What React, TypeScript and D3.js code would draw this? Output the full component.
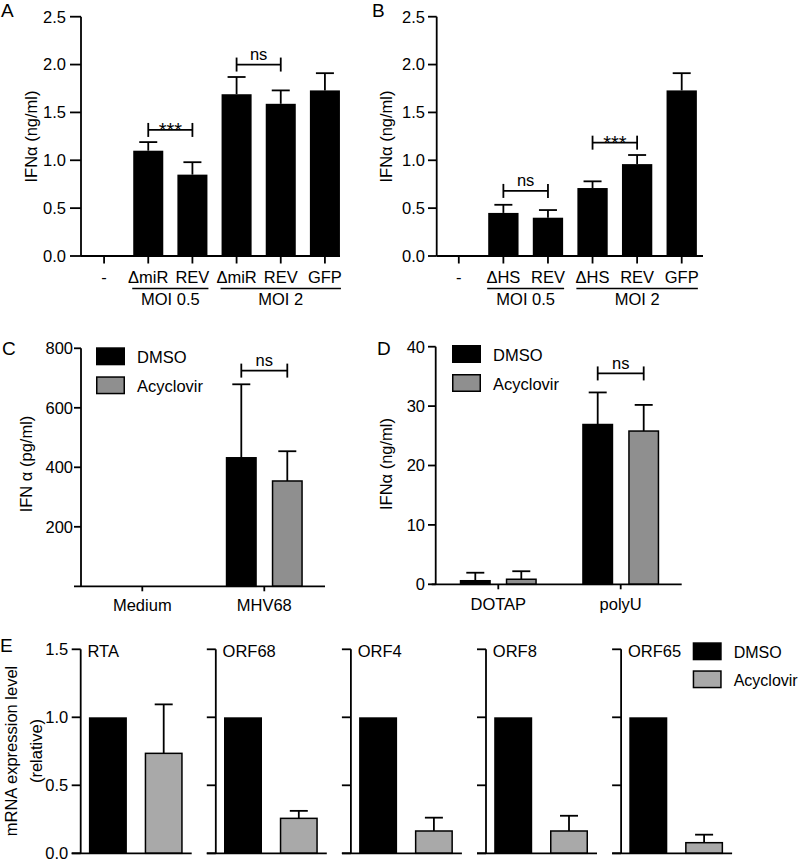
import React from 'react';
import * as d3 from 'd3';

// ---------- DATA ----------
const aCategories = ['-', 'ΔmiR', 'REV', 'ΔmiR', 'REV', 'GFP'];
const aValues = [0, 1.10, 0.85, 1.69, 1.59, 1.73];
const aErrors = [0, 0.09, 0.13, 0.18, 0.14, 0.18];
const aSignif = [
  { from: 1, to: 2, level: 1.317, label: '***' },
  { from: 3, to: 4, level: 2.0, label: 'ns' },
];

const bCategories = ['-', 'ΔHS', 'REV', 'ΔHS', 'REV', 'GFP'];
const bValues = [0, 0.45, 0.40, 0.71, 0.96, 1.73];
const bErrors = [0, 0.085, 0.08, 0.07, 0.095, 0.18];
const bSignif = [
  { from: 1, to: 2, level: 0.68, label: 'ns' },
  { from: 3, to: 4, level: 1.184, label: '***' },
];

const abTicks = [0, 0.5, 1.0, 1.5, 2.0, 2.5];
const moiGroups = [
  { label: 'MOI 0.5', first: 1, last: 2 },
  { label: 'MOI 2', first: 3, last: 5 },
];

const treatments = ['DMSO', 'Acyclovir'];

const cGroups = ['Medium', 'MHV68'];
const cDmso = [0, 432];
const cDmsoErr = [0, 247];
const cAcy = [0, 354];
const cAcyErr = [0, 100];
const cTicks = [200, 400, 600, 800];
const cSignif = { group: 1, level: 725, label: 'ns' };

const dGroups = ['DOTAP', 'polyU'];
const dDmso = [0.6, 26.9];
const dDmsoErr = [1.35, 5.4];
const dAcy = [0.85, 25.8];
const dAcyErr = [1.35, 4.4];
const dTicks = [0, 10, 20, 30, 40];
const dSignif = { group: 1, level: 35.5, label: 'ns' };

const eGenes = ['RTA', 'ORF68', 'ORF4', 'ORF8', 'ORF65'];
const eDmso = [1, 1, 1, 1, 1];
const eAcy = [0.735, 0.257, 0.164, 0.164, 0.078];
const eAcyErr = [0.36, 0.055, 0.098, 0.112, 0.059];
const eTicks = [0, 0.5, 1.0, 1.5];

// ---------- STYLE ----------
const FONT = 'Arial, "Liberation Sans", sans-serif';
const FS = 16.5;
const GRAY_CD = '#8f8f8f';
const GRAY_E = '#a9a9a9';
const LW = 1.8;

function ErrBar({ x, y0, y1, cap = 18 }: { x: number; y0: number; y1: number; cap?: number }) {
  return (
    <g stroke="#000" strokeWidth={LW}>
      <line x1={x} x2={x} y1={y0} y2={y1} />
      <line x1={x - cap / 2} x2={x + cap / 2} y1={y1} y2={y1} />
    </g>
  );
}

function Bracket({ x1, x2, y, label }: { x1: number; x2: number; y: number; label: string }) {
  const star = label.includes('*');
  return (
    <g>
      <g stroke="#000" strokeWidth={LW}>
        <line x1={x1} x2={x2} y1={y} y2={y} />
        <line x1={x1} x2={x1} y1={y - 7} y2={y + 7} />
        <line x1={x2} x2={x2} y1={y - 7} y2={y + 7} />
      </g>
      <text
        x={(x1 + x2) / 2}
        y={star ? y + 7 : y - 4.7}
        textAnchor="middle"
        fontSize={star ? 20 : FS}
        fontFamily={FONT}
      >
        {label}
      </text>
    </g>
  );
}

type ABProps = {
  categories: string[];
  values: number[];
  errors: number[];
  signif: { from: number; to: number; level: number; label: string }[];
  axisX: number;
  axisEnd: number;
  bandRange: [number, number];
  tickLen: number;
  labelGap: number;
  letter: string;
  letterX: number;
  yLabelX: number;
  moiLineGap: number;
};

function PanelAB(p: ABProps) {
  const y = d3.scaleLinear().domain([0, 2.5]).range([256, 16.7]);
  const idx = d3.range(p.categories.length);
  const x = d3
    .scaleBand<number>()
    .domain(idx)
    .range(p.bandRange)
    .paddingInner(0.32)
    .paddingOuter(0.16);
  const bw = x.bandwidth();
  const cx = (i: number) => (x(i) as number) + bw / 2;
  return (
    <g fontFamily={FONT} fontSize={FS}>
      <text x={p.letterX} y={16.7} fontSize={19}>
        {p.letter}
      </text>
      <text transform={`translate(${p.yLabelX},136.5) rotate(-90)`} textAnchor="middle">
        IFNα (ng/ml)
      </text>
      {idx.map((i) => (
        <rect
          key={'b' + i}
          x={x(i)}
          width={bw}
          y={y(p.values[i])}
          height={y(0) - y(p.values[i])}
          fill="#000"
        />
      ))}
      {idx
        .filter((i) => p.errors[i] > 0)
        .map((i) => (
          <ErrBar key={'e' + i} x={cx(i)} y0={y(p.values[i])} y1={y(p.values[i] + p.errors[i])} />
        ))}
      <g stroke="#000" strokeWidth={LW}>
        <line x1={p.axisX} x2={p.axisX} y1={y(2.5)} y2={y(0)} />
        <line x1={p.axisX} x2={p.axisEnd} y1={y(0)} y2={y(0)} />
        {abTicks.map((t) => (
          <line key={'t' + t} x1={p.axisX - p.tickLen} x2={p.axisX} y1={y(t)} y2={y(t)} />
        ))}
        {idx.map((i) => (
          <line key={'xt' + i} x1={cx(i)} x2={cx(i)} y1={y(0)} y2={y(0) + 7.5} />
        ))}
      </g>
      {abTicks.map((t) => (
        <text
          key={'tl' + t}
          x={p.axisX - p.tickLen - p.labelGap}
          y={y(t) + 5.9}
          textAnchor="end"
        >
          {d3.format('.1f')(t)}
        </text>
      ))}
      {idx.map((i) => (
        <text key={'xl' + i} x={cx(i)} y={283.3} textAnchor="middle">
          {p.categories[i]}
        </text>
      ))}
      {moiGroups.map((g) => {
        const xa = (x(g.first) as number) - p.moiLineGap;
        const xb = (x(g.last) as number) + bw + p.moiLineGap;
        return (
          <g key={g.label}>
            <line x1={xa} x2={xb} y1={288.5} y2={288.5} stroke="#000" strokeWidth={1.5} />
            <text x={(xa + xb) / 2} y={305} textAnchor="middle">
              {g.label}
            </text>
          </g>
        );
      })}
      {p.signif.map((s, k) => (
        <Bracket key={'s' + k} x1={cx(s.from)} x2={cx(s.to)} y={y(s.level)} label={s.label} />
      ))}
    </g>
  );
}

type CDProps = {
  groups: string[];
  dmso: number[];
  dmsoErr: number[];
  acy: number[];
  acyErr: number[];
  ticks: number[];
  domainMax: number;
  yRange: [number, number];
  axisX: number;
  xLineStart: number;
  xLineEnd: number;
  groupRange: [number, number];
  tickLen: number;
  labelEnd: number;
  signif: { group: number; level: number; label: string };
  letter: string;
  letterX: number;
  yLabel: string;
  yLabelX: number;
  legendX: number;
  legendY: number;
  xLabelY: number;
};

function Legend({ x, y, gray, dy = 29, fs = FS }: { x: number; y: number; gray: string; dy?: number; fs?: number }) {
  return (
    <g fontFamily={FONT} fontSize={fs}>
      {treatments.map((t, i) => (
        <g key={t}>
          <rect
            x={x + 0.75}
            y={y + i * dy + 0.75}
            width={27.5}
            height={16.5}
            fill={i === 0 ? '#000' : gray}
            stroke="#000"
            strokeWidth={1.5}
          />
          <text x={x + 41} y={y + i * dy + 15.5}>
            {t}
          </text>
        </g>
      ))}
    </g>
  );
}

function PanelCD(p: CDProps) {
  const y = d3.scaleLinear().domain([0, p.domainMax]).range(p.yRange);
  const gx = d3.scaleBand<string>().domain(p.groups).range(p.groupRange);
  const ix = d3.scalePoint<string>().domain(treatments).range([-23, 23]);
  const bw = 31;
  const gc = (g: string) => (gx(g) as number) + gx.bandwidth() / 2;
  const series = [
    { key: 'DMSO', vals: p.dmso, errs: p.dmsoErr, fill: '#000' },
    { key: 'Acyclovir', vals: p.acy, errs: p.acyErr, fill: GRAY_CD },
  ];
  const sg = p.groups[p.signif.group];
  return (
    <g fontFamily={FONT} fontSize={FS}>
      <text x={p.letterX} y={355} fontSize={19}>
        {p.letter}
      </text>
      <text transform={`translate(${p.yLabelX},464) rotate(-90)`} textAnchor="middle">
        {p.yLabel}
      </text>
      {series.map((s) =>
        p.groups.map((g, gi) => {
          const cx = gc(g) + (ix(s.key) as number);
          const v = s.vals[gi];
          if (v <= 0) return null;
          const top = y(v);
          return (
            <g key={s.key + g}>
              <rect
                x={cx - bw / 2 + 0.75}
                y={top}
                width={bw - 1.5}
                height={y(0) - top}
                fill={s.fill}
                stroke="#000"
                strokeWidth={1.5}
              />
              {s.errs[gi] > 0 && <ErrBar x={cx} y0={top} y1={y(v + s.errs[gi])} />}
            </g>
          );
        })
      )}
      <g stroke="#000" strokeWidth={LW}>
        <line x1={p.axisX} x2={p.axisX} y1={y(p.domainMax)} y2={y(0)} />
        <line x1={p.xLineStart} x2={p.xLineEnd} y1={y(0)} y2={y(0)} />
        {p.ticks.map((t) => (
          <line key={'t' + t} x1={p.axisX - p.tickLen} x2={p.axisX} y1={y(t)} y2={y(t)} />
        ))}
        {p.groups.map((g) => (
          <line key={'xt' + g} x1={gc(g)} x2={gc(g)} y1={y(0)} y2={y(0) + 5} />
        ))}
      </g>
      {p.ticks.map((t) => (
        <text key={'tl' + t} x={p.labelEnd} y={y(t) + 5.9} textAnchor="end">
          {t}
        </text>
      ))}
      {p.groups.map((g) => (
        <text key={'xl' + g} x={gc(g)} y={p.xLabelY} textAnchor="middle">
          {g}
        </text>
      ))}
      <Bracket
        x1={gc(sg) + (ix('DMSO') as number)}
        x2={gc(sg) + (ix('Acyclovir') as number)}
        y={y(p.signif.level)}
        label={p.signif.label}
      />
      <Legend x={p.legendX} y={p.legendY} gray={GRAY_CD} />
    </g>
  );
}

function PanelE() {
  const y = d3.scaleLinear().domain([0, 1.5]).range([853.3, 649.3]);
  const gx = d3.scaleBand<string>().domain(eGenes).range([80.7, 80.7 + 5 * 135.1]);
  const ix = d3.scalePoint<string>().domain(treatments).range([27.2, 83]);
  const bw = 38;
  return (
    <g fontFamily={FONT} fontSize={FS}>
      <text x={0} y={651.7} fontSize={19}>
        E
      </text>
      <text transform={`translate(16.5,751) rotate(-90)`} textAnchor="middle">
        mRNA expression level
      </text>
      <text transform={`translate(41.5,751) rotate(-90)`} textAnchor="middle">
        (relative)
      </text>
      {eTicks.map((t) => (
        <text key={'tl' + t} x={68.3} y={y(t) + 5.9} textAnchor="end">
          {d3.format('.1f')(t)}
        </text>
      ))}
      {eGenes.map((g, gi) => {
        const ax = gx(g) as number;
        const dx = ax + (ix('DMSO') as number);
        const axc = ax + (ix('Acyclovir') as number);
        return (
          <g key={g}>
            <rect x={dx - bw / 2} y={y(eDmso[gi])} width={bw} height={y(0) - y(eDmso[gi])} fill="#000" />
            <rect
              x={axc - bw / 2 + 0.75}
              y={y(eAcy[gi])}
              width={bw - 1.5}
              height={y(0) - y(eAcy[gi])}
              fill={GRAY_E}
              stroke="#000"
              strokeWidth={1.5}
            />
            <ErrBar x={axc} y0={y(eAcy[gi])} y1={y(eAcy[gi] + eAcyErr[gi])} />
            <g stroke="#000" strokeWidth={LW}>
              <line x1={ax} x2={ax} y1={y(1.5)} y2={y(0)} />
              <line x1={ax - 9} x2={ax + 111} y1={y(0)} y2={y(0)} />
              {eTicks.map((t) => (
                <line key={'t' + t} x1={ax - 9} x2={ax} y1={y(t)} y2={y(t)} />
              ))}
            </g>
            <text x={ax + 6.8} y={656.7}>
              {g}
            </text>
          </g>
        );
      })}
      <Legend x={692.7} y={642.3} gray={GRAY_E} dy={28} fs={16} />
    </g>
  );
}

export default function App() {
  return (
    <svg
      width={800}
      height={861}
      viewBox="0 0 800 861"
      style={{ position: 'absolute', left: 0, top: 0, background: '#fff' }}
    >
      <rect width={800} height={861} fill="#fff" />
      <PanelAB
        categories={aCategories}
        values={aValues}
        errors={aErrors}
        signif={aSignif}
        axisX={81}
        axisEnd={340}
        bandRange={[82, 347]}
        tickLen={11}
        labelGap={4}
        letter="A"
        letterX={1}
        yLabelX={36.5}
        moiLineGap={1}
      />
      <PanelAB
        categories={bCategories}
        values={bValues}
        errors={bErrors}
        signif={bSignif}
        axisX={436.7}
        axisEnd={703}
        bandRange={[436.5, 704]}
        tickLen={8.7}
        labelGap={3}
        letter="B"
        letterX={372}
        yLabelX={392}
        moiLineGap={1}
      />
      <PanelCD
        groups={cGroups}
        dmso={cDmso}
        dmsoErr={cDmsoErr}
        acy={cAcy}
        acyErr={cAcyErr}
        ticks={cTicks}
        domainMax={800}
        yRange={[586.3, 348.3]}
        axisX={81}
        xLineStart={74}
        xLineEnd={325}
        groupRange={[81.3, 325.3]}
        tickLen={7}
        labelEnd={73}
        signif={cSignif}
        letter="C"
        letterX={2}
        yLabel="IFN α (pg/ml)"
        yLabelX={31.7}
        legendX={96}
        legendY={347.3}
        xLabelY={611}
      />
      <PanelCD
        groups={dGroups}
        dmso={dDmso}
        dmsoErr={dDmsoErr}
        acy={dAcy}
        acyErr={dAcyErr}
        ticks={dTicks}
        domainMax={40}
        yRange={[584.3, 346.7]}
        axisX={435.7}
        xLineStart={431.7}
        xLineEnd={681.7}
        groupRange={[437.1, 681.9]}
        tickLen={7.7}
        labelEnd={425}
        signif={dSignif}
        letter="D"
        letterX={377}
        yLabel="IFNα (ng/ml)"
        yLabelX={392}
        legendX={452}
        legendY={345}
        xLabelY={610}
      />
      <PanelE />
    </svg>
  );
}
